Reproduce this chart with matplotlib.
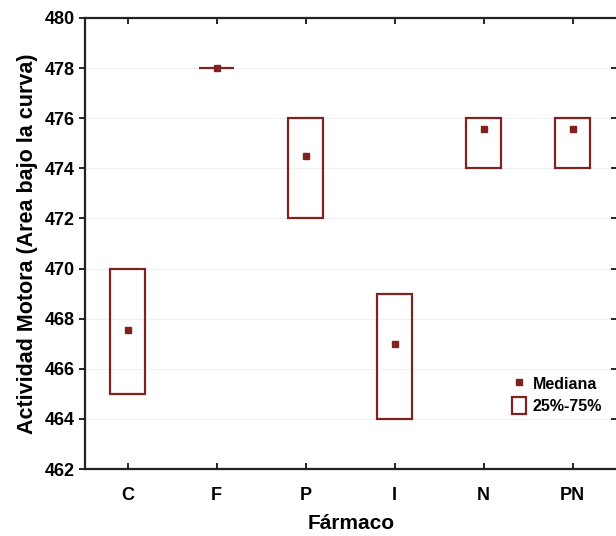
import matplotlib.pyplot as plt
from matplotlib.patches import Rectangle
from matplotlib.lines import Line2D

plt.rcParams['font.family'] = ['Liberation Sans', 'DejaVu Sans']
plt.rcParams['font.weight'] = 'bold'
plt.rcParams['axes.labelweight'] = 'bold'

farmacos = ["C", "F", "P", "I", "N", "PN"]
q25 = [465, 478, 472, 464, 474, 474]
q75 = [470, 478, 476, 469, 476, 476]
mediana = [467.55, 478, 474.5, 467, 475.55, 475.55]

color = "#7e2222"
box_w = 0.4

fig = plt.figure(figsize=(6.16, 5.36), dpi=100)
ax = fig.add_axes([85 / 616, 1 - 469 / 536, 532 / 616, 451 / 536])

for i, (lo, hi, med) in enumerate(zip(q25, q75, mediana)):
    ax.add_patch(Rectangle((i - box_w / 2, lo), box_w, hi - lo,
                           fill=False, edgecolor=color, linewidth=1.6, zorder=3))
    ax.plot(i, med, marker="s", markersize=4, color=color, linestyle="none", zorder=4)

ax.set_xlim(-0.48, 5.5)
ax.set_ylim(462, 480)
ax.set_yticks(range(462, 481, 2))
ax.set_xticks(range(len(farmacos)))
ax.set_xticklabels(farmacos)
ax.yaxis.grid(True, color="#f0f0f0", linewidth=0.8)
ax.set_axisbelow(True)

for s in ax.spines.values():
    s.set_linewidth(1.6)
    s.set_color("#222222")
ax.spines["right"].set_visible(False)

ax.tick_params(axis="x", direction="in", top=True, length=4, width=1.2,
               labelsize=13, pad=13)
ax.tick_params(axis="y", direction="out", length=4, width=1.2, labelsize=13)
ax.tick_params(axis="y", which="both", right=True)
for t in ax.yaxis.get_ticklines()[1::2]:
    t.set_marker(0)

ax.set_xlabel("Fármaco", fontsize=15, labelpad=7)
ax.set_ylabel("Actividad Motora (Area bajo la curva)", fontsize=15.5, labelpad=5)

handles = [
    Line2D([], [], marker="s", markersize=4, color=color, linestyle="none"),
    Rectangle((0, 0), 1, 1, fill=False, edgecolor=color, linewidth=1.6),
]
ax.legend(handles, ["Mediana", "25%-75%"], loc="center left",
          bbox_to_anchor=(0.775, 0.165), frameon=False, fontsize=11.5,
          handlelength=0.9, handleheight=1.3, handletextpad=0.4,
          labelspacing=0.3)

fig.savefig("out.png", dpi=100)
